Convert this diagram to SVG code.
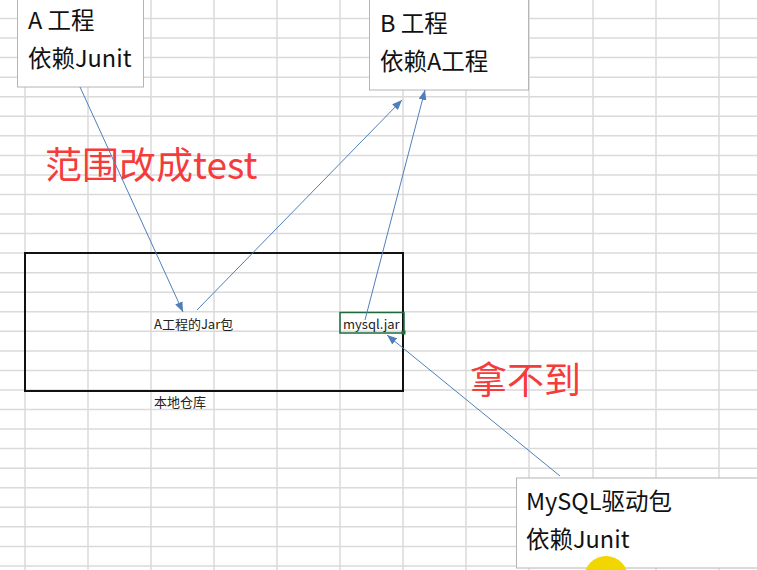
<svg xmlns="http://www.w3.org/2000/svg" width="757" height="570" viewBox="0 0 757 570">
<defs>
<style>
.grid line{stroke:#dadada;stroke-width:1.5}
.card{fill:#ffffff;stroke:#b4b4b4;stroke-width:1}
.big{font-family:"Noto Sans CJK SC","Liberation Sans",sans-serif;font-size:23.5px;fill:#111}
.small{font-family:"Noto Sans CJK SC","Liberation Sans",sans-serif;font-size:13px;fill:#222}
.red{font-family:"Noto Sans CJK SC","Liberation Sans",sans-serif;font-size:37px;fill:#f53c3c}
.conn{stroke:#4f7fba;stroke-width:1;fill:none;marker-end:url(#ah)}
</style>
<marker id="ah" viewBox="0 0 10 8" refX="10" refY="4" markerWidth="10" markerHeight="8" markerUnits="userSpaceOnUse" orient="auto">
<path d="M0,0 L10,4 L0,8 Z" fill="#4f7fba"/>
</marker>
</defs>
<rect width="757" height="570" fill="#ffffff"/>
<g class="grid">
<line x1="25" y1="0" x2="25" y2="570"/><line x1="88" y1="0" x2="88" y2="570"/><line x1="151" y1="0" x2="151" y2="570"/><line x1="214" y1="0" x2="214" y2="570"/><line x1="277" y1="0" x2="277" y2="570"/><line x1="340" y1="0" x2="340" y2="570"/><line x1="403" y1="0" x2="403" y2="570"/><line x1="466" y1="0" x2="466" y2="570"/><line x1="529" y1="0" x2="529" y2="570"/><line x1="593" y1="0" x2="593" y2="570"/><line x1="656" y1="0" x2="656" y2="570"/><line x1="719" y1="0" x2="719" y2="570"/>
<line x1="0" y1="18.5" x2="757" y2="18.5"/><line x1="0" y1="38" x2="757" y2="38"/><line x1="0" y1="57.6" x2="757" y2="57.6"/><line x1="0" y1="77.2" x2="757" y2="77.2"/><line x1="0" y1="96.7" x2="757" y2="96.7"/><line x1="0" y1="116.3" x2="757" y2="116.3"/><line x1="0" y1="135.8" x2="757" y2="135.8"/><line x1="0" y1="155.4" x2="757" y2="155.4"/><line x1="0" y1="174.9" x2="757" y2="174.9"/><line x1="0" y1="194.5" x2="757" y2="194.5"/><line x1="0" y1="214" x2="757" y2="214"/><line x1="0" y1="233.6" x2="757" y2="233.6"/><line x1="0" y1="253.1" x2="757" y2="253.1"/><line x1="0" y1="272.7" x2="757" y2="272.7"/><line x1="0" y1="292.2" x2="757" y2="292.2"/><line x1="0" y1="311.8" x2="757" y2="311.8"/><line x1="0" y1="331.3" x2="757" y2="331.3"/><line x1="0" y1="350.9" x2="757" y2="350.9"/><line x1="0" y1="370.4" x2="757" y2="370.4"/><line x1="0" y1="390" x2="757" y2="390"/><line x1="0" y1="409.5" x2="757" y2="409.5"/><line x1="0" y1="429.1" x2="757" y2="429.1"/><line x1="0" y1="448.6" x2="757" y2="448.6"/><line x1="0" y1="468.2" x2="757" y2="468.2"/><line x1="0" y1="487.7" x2="757" y2="487.7"/><line x1="0" y1="507.3" x2="757" y2="507.3"/><line x1="0" y1="526.8" x2="757" y2="526.8"/><line x1="0" y1="546.4" x2="757" y2="546.4"/><line x1="0" y1="565.9" x2="757" y2="565.9"/>
</g>
<g id="local-repo">
<rect x="25" y="253" width="378" height="138" fill="none" stroke="#111" stroke-width="2"/>
<text class="small" x="154" y="407" font-size="14">本地仓库</text>
</g>
<g id="a-jar">
<text class="small" x="154" y="329">A工程的Jar包</text>
</g>
<g id="mysql-jar">
<rect x="340" y="312.5" width="64" height="20.5" fill="none" stroke="#1f6b3e" stroke-width="1.5"/>
<rect x="401.5" y="330.5" width="4" height="4" fill="#1f6b3e"/>
<text class="small" x="343" y="329">mysql.jar</text>
</g>
<g id="project-a">
<rect class="card" x="17.5" y="-5" width="126" height="92"/>
<text class="big" x="28" y="29">A 工程</text>
<text class="big" x="28" y="67">依赖Junit</text>
</g>
<g id="project-b">
<rect class="card" x="369.5" y="-5" width="159" height="95"/>
<text class="big" x="380" y="32">B 工程</text>
<text class="big" x="380" y="70">依赖A工程</text>
</g>
<g id="mysql-driver">
<rect class="card" x="516.5" y="478" width="250" height="90"/>
<text class="big" x="526" y="510">MySQL驱动包</text>
<text class="big" x="526" y="548">依赖Junit</text>
</g>
<g id="notes">
<text class="red" x="45" y="179">范围改成test</text>
<text class="red" x="470" y="394">拿不到</text>
</g>
<circle cx="606" cy="578" r="22" fill="#f2d600"/>
<g id="connectors">
<line class="conn" x1="80" y1="87" x2="183" y2="312"/>
<line class="conn" x1="197" y1="310" x2="402" y2="100"/>
<line class="conn" x1="365" y1="320" x2="425" y2="90"/>
<line class="conn" x1="560" y1="476" x2="387" y2="335"/>
</g>
</svg>
